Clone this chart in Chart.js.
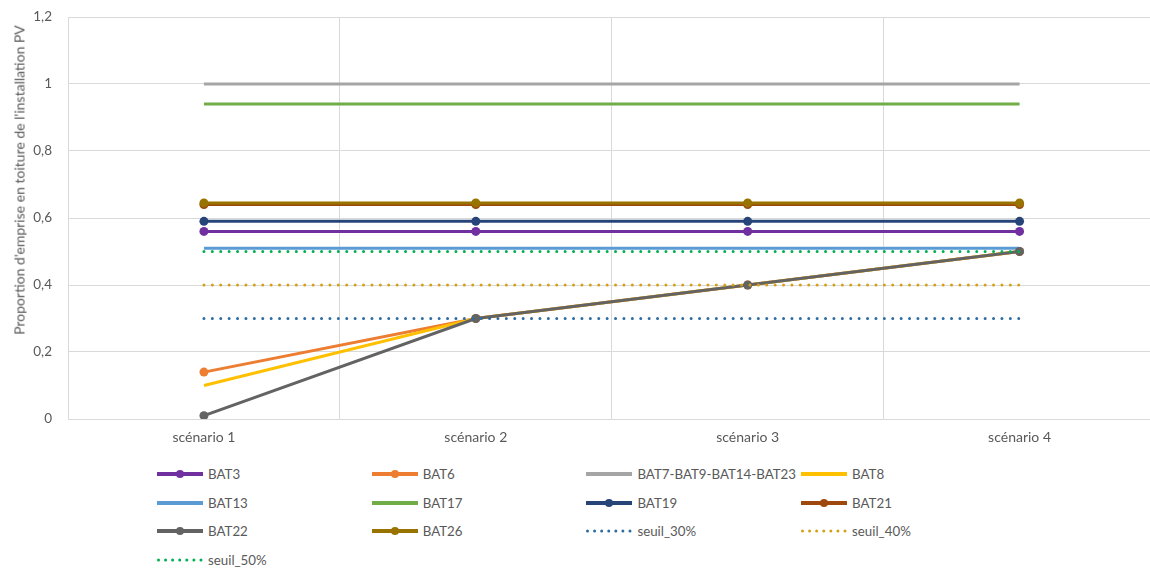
<!DOCTYPE html>
<html>
<head>
<meta charset="utf-8">
<script src="https://cdn.jsdelivr.net/npm/chart.js"></script>
<style>
  html, body { margin: 0; padding: 0; background: #fff; overflow: hidden; }
  #wrap { position: relative; width: 1150px; height: 569px; overflow: hidden; }
  #myChart { position: absolute; left: 0; top: 0; }
  .lg { position: absolute; height: 20px; display: flex; align-items: center;
        font-family: Lato, sans-serif; font-size: 13.3px; color: #595959; white-space: nowrap; }
  .lg svg { margin-right: 5px; }
  #ytitle { position: absolute; left: 19px; top: 180px; transform: translate(-50%, -50%) rotate(-90deg);
            font-family: Lato, sans-serif; font-size: 14px; color: #595959; white-space: nowrap; }
</style>
</head>
<body>
<div id="wrap">
  <canvas id="myChart" width="1160" height="460"></canvas>
  <div id="ytitle"></div>
  <div id="legend"></div>
</div>
<script>
// categories and series values
const categories = ['scénario 1', 'scénario 2', 'scénario 3', 'scénario 4'];
const yTicks = [0, 0.2, 0.4, 0.6, 0.8, 1, 1.2];
const yTitle = "Proportion d'emprise en toiture de l'installation PV";

const bat3 = [0.56, 0.56, 0.56, 0.56];
const bat6 = [0.14, 0.3, 0.4, 0.5];
const bat7_9_14_23 = [1, 1, 1, 1];
const bat8 = [0.1, 0.3, 0.4, 0.5];
const bat13 = [0.51, 0.51, 0.51, 0.51];
const bat17 = [0.94, 0.94, 0.94, 0.94];
const bat19 = [0.59, 0.59, 0.59, 0.59];
const bat21 = [0.64, 0.64, 0.64, 0.64];
const bat22 = [0.01, 0.3, 0.4, 0.5];
const bat26 = [0.645, 0.645, 0.645, 0.645];
const seuil30 = [0.3, 0.3, 0.3, 0.3];
const seuil40 = [0.4, 0.4, 0.4, 0.4];
const seuil50 = [0.5, 0.5, 0.5, 0.5];

const series = [
  { label: 'BAT3', data: bat3, color: '#7030A0', marker: true },
  { label: 'BAT6', data: bat6, color: '#ED7D31', marker: true },
  { label: 'BAT7-BAT9-BAT14-BAT23', data: bat7_9_14_23, color: '#A5A5A5' },
  { label: 'BAT8', data: bat8, color: '#FFC000' },
  { label: 'BAT13', data: bat13, color: '#5B9BD5' },
  { label: 'BAT17', data: bat17, color: '#70AD47' },
  { label: 'BAT19', data: bat19, color: '#264478', marker: true },
  { label: 'BAT21', data: bat21, color: '#9E480E', marker: true },
  { label: 'BAT22', data: bat22, color: '#636363', marker: true },
  { label: 'BAT26', data: bat26, color: '#997300', marker: true },
  { label: 'seuil_30%', data: seuil30, color: '#2E6CA4', dotted: true },
  { label: 'seuil_40%', data: seuil40, color: '#D4A017', dotted: true },
  { label: 'seuil_50%', data: seuil50, color: '#00B050', dotted: true }
];

const textColor = '#595959';
const gridColor = '#D9D9D9';

const datasets = series.map((s, i) => ({
  label: s.label,
  data: s.data,
  borderColor: s.color,
  backgroundColor: s.color,
  borderWidth: 3,
  borderDash: s.dotted ? [0, 8.4] : [],
  borderCapStyle: s.dotted ? 'round' : 'butt',
  pointRadius: s.marker ? 4.5 : 0,
  pointHoverRadius: s.marker ? 4.5 : 0,
  pointBorderWidth: 0,
  tension: 0,
  order: -i  // later series drawn on top, like the original
}));

const ctx = document.getElementById('myChart');
new Chart(ctx, {
  type: 'line',
  data: { labels: categories, datasets: datasets },
  options: {
    responsive: false,
    animation: false,
    events: [],
    layout: { padding: { top: 17, right: 4, left: 0, bottom: 0 } },
    plugins: { legend: { display: false }, tooltip: { enabled: false } },
    scales: {
      x: {
        offset: true,
        grid: { color: gridColor, offset: true, drawTicks: false, lineWidth: 1 },
        border: { color: gridColor },
        ticks: { color: textColor, font: { family: 'Lato', size: 14 }, padding: 10 },
        afterFit: (s) => { s.height = 41; }
      },
      y: {
        min: 0,
        max: 1.2,
        afterBuildTicks: (s) => { s.ticks = yTicks.map(v => ({ value: v })); },
        grid: { color: gridColor, drawTicks: false },
        border: { color: gridColor },
        ticks: {
          color: textColor,
          font: { family: 'Lato', size: 13.5 },
          padding: 16,
          callback: (v) => String(Math.round(v * 10) / 10).replace('.', ',')
        },
        afterFit: (s) => { s.width = 68; s.paddingTop = 0; s.paddingBottom = 0; }
      }
    }
  }
});

document.getElementById('ytitle').textContent = yTitle;

// legend in a 4-column grid, built from the same series
const legend = document.getElementById('legend');
series.forEach((s, i) => {
  const col = i % 4, row = Math.floor(i / 4);
  const item = document.createElement('div');
  item.className = 'lg';
  item.style.left = (157 + col * 214.7) + 'px';
  item.style.top = (464 + row * 28.6) + 'px';
  let sw;
  if (s.dotted) {
    sw = `<svg width="46" height="10"><line x1="1.5" y1="5" x2="44" y2="5" stroke="${s.color}" stroke-width="3" stroke-linecap="round" stroke-dasharray="0 7.08"/></svg>`;
  } else {
    sw = `<svg width="46" height="10"><line x1="0" y1="5" x2="46" y2="5" stroke="${s.color}" stroke-width="4"/>` +
      (s.marker ? `<circle cx="23" cy="5" r="4" fill="${s.color}"/>` : '') + `</svg>`;
  }
  item.innerHTML = sw + '<span>' + s.label + '</span>';
  legend.appendChild(item);
});
</script>
</body>
</html>
